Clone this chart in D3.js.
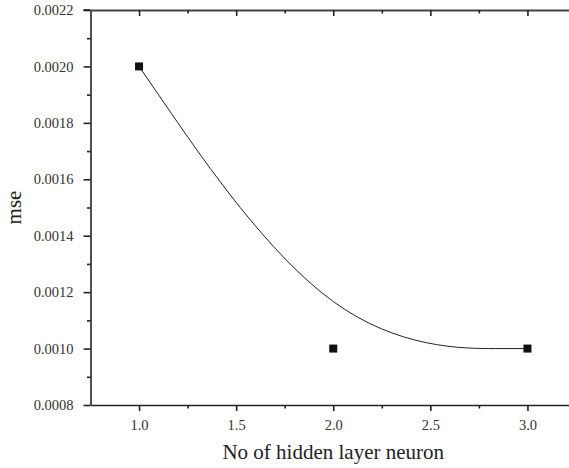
<!DOCTYPE html>
<html>
<head>
<meta charset="utf-8">
<script src="https://cdn.jsdelivr.net/npm/d3@7"></script>
<style>
  body { margin: 0; background: #fff; }
  svg { display: block; font-family: "Liberation Serif", "Times New Roman", serif; }
</style>
</head>
<body>
<div class="chart"></div>
<script>
// data
var neurons = [1, 2, 3];
var mse = [0.0020, 0.0010, 0.0010];

var xTicks = [1.0, 1.5, 2.0, 2.5, 3.0];
var xMinor = [1.25, 1.75, 2.25, 2.75];
var yTicks = [0.0008, 0.0010, 0.0012, 0.0014, 0.0016, 0.0018, 0.0020, 0.0022];
var yMinor = [0.0009, 0.0011, 0.0013, 0.0015, 0.0017, 0.0019, 0.0021];

var data = neurons.map(function (n, i) { return { n: n, mse: mse[i] }; });

var W = 569, H = 468;
var margin = { top: 10, right: -7, bottom: 63, left: 90.5 },
    width = W - margin.left - margin.right,
    height = H - margin.top - margin.bottom;

var x = d3.scaleLinear().domain([0.75, 3.25]).range([0, width]);
var y = d3.scaleLinear().domain([0.0008, 0.0022]).range([height, 0]);

var svg = d3.select(".chart")
    .append("svg")
    .attr("width", W)
    .attr("height", H)
    .append("g")
    .attr("transform", "translate(" + margin.left + "," + margin.top + ")");

function styleAxis(g, labels) {
    g.attr("font-family", "Liberation Serif").attr("font-size", 14.5);
    g.select(".domain").attr("stroke", "#222").attr("stroke-width", 1.6);
    g.selectAll(".tick line").attr("stroke", "#222").attr("stroke-width", 1.6);
    g.selectAll(".tick text").attr("fill", "#333");
    if (!labels) g.selectAll(".tick text").remove();
}

// left axis
var yAx = svg.append("g")
    .call(d3.axisLeft(y).tickValues(yTicks).tickSize(7).tickSizeOuter(0).tickPadding(10)
        .tickFormat(d3.format(".4f")));
styleAxis(yAx, true);
var yAxm = svg.append("g")
    .call(d3.axisLeft(y).tickValues(yMinor).tickSize(3.5).tickSizeOuter(0));
styleAxis(yAxm, false);
yAxm.select(".domain").remove();

// bottom axis
var xAx = svg.append("g")
    .attr("transform", "translate(0," + height + ")")
    .call(d3.axisBottom(x).tickValues(xTicks).tickSize(6).tickSizeOuter(0).tickPadding(9)
        .tickFormat(d3.format(".1f")));
styleAxis(xAx, true);
var xAxm = svg.append("g")
    .attr("transform", "translate(0," + height + ")")
    .call(d3.axisBottom(x).tickValues(xMinor).tickSize(3.5).tickSizeOuter(0));
styleAxis(xAxm, false);
xAxm.select(".domain").remove();

// top axis, ticks pointing in
var tAx = svg.append("g")
    .call(d3.axisTop(x).tickValues(xTicks).tickSize(-6).tickSizeOuter(0));
styleAxis(tAx, false);
tAx.select(".domain").attr("stroke", "#444").attr("stroke-width", 1.8);
var tAxm = svg.append("g")
    .call(d3.axisTop(x).tickValues(xMinor).tickSize(-3.5).tickSizeOuter(0));
styleAxis(tAxm, false);
tAxm.select(".domain").remove();

// extend top line over the outer tick at 0.0022
svg.append("line")
    .attr("x1", -7).attr("x2", 0)
    .attr("y1", y(0.0022)).attr("y2", y(0.0022))
    .attr("stroke", "#222").attr("stroke-width", 1.6);

// smoothed curve (B-spline through the points)
var line = d3.line()
    .x(function (d) { return x(d.n); })
    .y(function (d) { return y(d.mse); })
    .curve(d3.curveBasis);

svg.append("path")
    .datum(data)
    .attr("fill", "none")
    .attr("stroke", "#222")
    .attr("stroke-width", 1)
    .attr("d", line);

// square markers
svg.selectAll(".pt")
    .data(data)
    .enter().append("rect")
    .attr("class", "pt")
    .attr("x", function (d) { return x(d.n) - 4; })
    .attr("y", function (d) { return y(d.mse) - 4; })
    .attr("width", 8)
    .attr("height", 8)
    .attr("fill", "#111");

// axis titles
svg.append("text")
    .attr("x", x(2))
    .attr("y", height + 54)
    .attr("text-anchor", "middle")
    .attr("fill", "#222")
    .style("font-size", "21px")
    .text("No of hidden layer neuron");

svg.append("text")
    .attr("transform", "translate(" + (-70) + "," + (y(0.0015)) + ") rotate(-90)")
    .attr("text-anchor", "middle")
    .attr("fill", "#222")
    .style("font-size", "21px")
    .text("mse");
</script>
</body>
</html>
